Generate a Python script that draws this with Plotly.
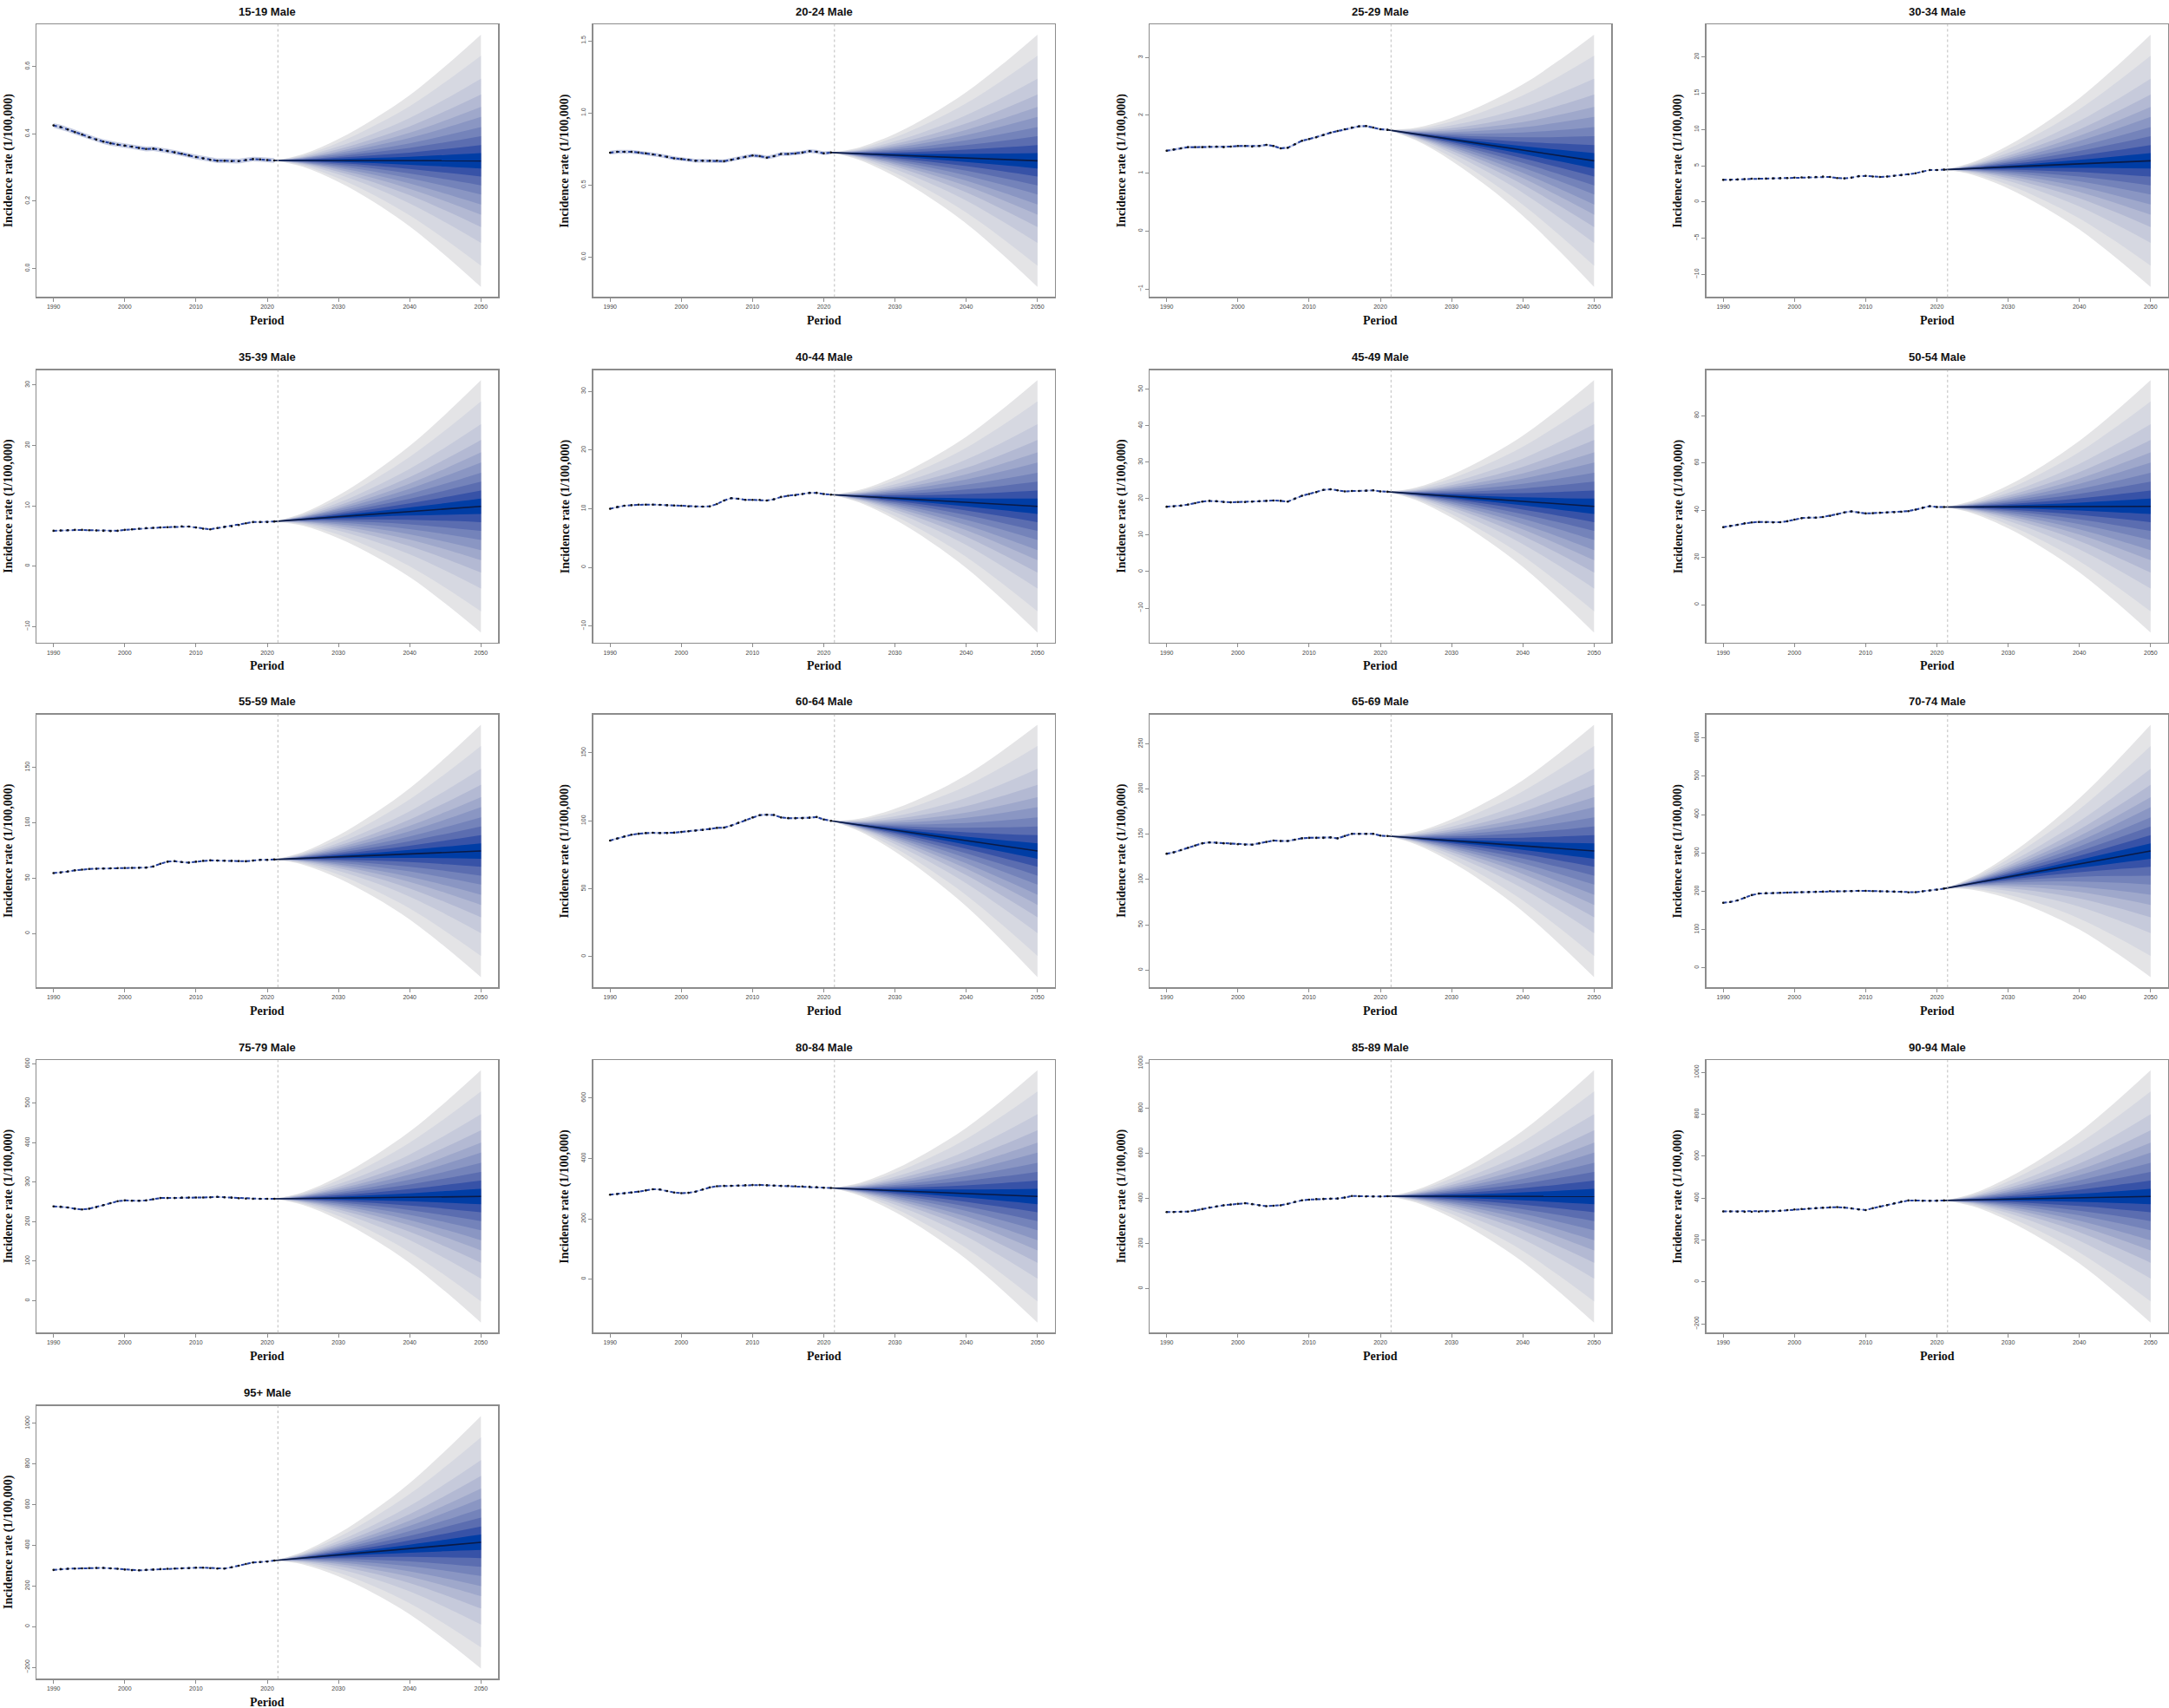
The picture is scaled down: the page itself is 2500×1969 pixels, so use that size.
import plotly.graph_objects as go

W, H = 2500, 1969

# ---------------- data ----------------
years_obs = list(range(1990, 2022))
proj_years = [2021, 2025, 2030, 2035, 2040, 2045, 2050]
# relative growth of the fan width over time (fraction of the 2050 width)
fan_profile = [0.0, 0.05, 0.17, 0.33, 0.52, 0.75, 1.0]
# band edges as fraction of outer half-width (outer -> inner)
band_fraction = [1.0, 0.832, 0.651, 0.525, 0.427, 0.347, 0.267, 0.195, 0.125, 0.061]
band_colors = ["#E4E4E6", "#D6D8E1", "#C6CADB", "#B3B9D3", "#9FA8CB", "#8A96C3",
               "#7483BA", "#5B6DB0", "#3752A7", "#003DA5"]

panel_titles = ["15-19 Male", "20-24 Male", "25-29 Male", "30-34 Male",
                "35-39 Male", "40-44 Male", "45-49 Male", "50-54 Male",
                "55-59 Male", "60-64 Male", "65-69 Male", "70-74 Male",
                "75-79 Male", "80-84 Male", "85-89 Male", "90-94 Male", "95+ Male"]

obs_15_19 = [0.425, 0.420, 0.413, 0.405, 0.398, 0.390, 0.383, 0.377, 0.372, 0.368, 0.365, 0.362,
             0.358, 0.355, 0.356, 0.353, 0.349, 0.345, 0.341, 0.336, 0.331, 0.327, 0.323, 0.320,
             0.320, 0.319, 0.319, 0.322, 0.325, 0.324, 0.322, 0.321]
obs_20_24 = [0.724, 0.730, 0.730, 0.730, 0.725, 0.720, 0.712, 0.705, 0.695, 0.685, 0.680, 0.675,
             0.668, 0.668, 0.668, 0.668, 0.665, 0.675, 0.685, 0.695, 0.705, 0.700, 0.690, 0.700,
             0.715, 0.715, 0.718, 0.725, 0.735, 0.730, 0.720, 0.725]
obs_25_29 = [1.388, 1.41, 1.43, 1.45, 1.45, 1.45, 1.46, 1.46, 1.45, 1.46, 1.47, 1.47,
             1.46, 1.47, 1.49, 1.47, 1.43, 1.44, 1.50, 1.56, 1.59, 1.62, 1.66, 1.70,
             1.73, 1.76, 1.79, 1.81, 1.815, 1.79, 1.76, 1.75]
obs_30_34 = [3.05, 3.05, 3.10, 3.15, 3.20, 3.20, 3.22, 3.25, 3.28, 3.30, 3.35, 3.38,
             3.40, 3.45, 3.50, 3.45, 3.30, 3.25, 3.35, 3.55, 3.60, 3.50, 3.45, 3.50,
             3.60, 3.70, 3.80, 3.95, 4.20, 4.40, 4.40, 4.45]
obs_35_39 = [5.85, 5.90, 5.95, 6.00, 6.00, 5.95, 5.90, 5.85, 5.80, 5.85, 6.00, 6.10,
             6.20, 6.30, 6.35, 6.40, 6.45, 6.50, 6.60, 6.55, 6.40, 6.20, 6.10, 6.30,
             6.50, 6.60, 6.80, 7.10, 7.30, 7.30, 7.30, 7.40]
obs_40_44 = [10.0, 10.3, 10.5, 10.6, 10.7, 10.7, 10.7, 10.65, 10.6, 10.55, 10.5, 10.4,
             10.35, 10.35, 10.4, 10.8, 11.4, 11.8, 11.7, 11.5, 11.5, 11.5, 11.4, 11.6,
             12.0, 12.2, 12.3, 12.5, 12.7, 12.7, 12.5, 12.4]
obs_45_49 = [17.8, 17.9, 18.1, 18.4, 18.8, 19.2, 19.4, 19.3, 19.1, 19.0, 19.1, 19.1,
             19.2, 19.3, 19.4, 19.5, 19.4, 19.2, 20.0, 20.8, 21.3, 21.8, 22.4, 22.6,
             22.3, 22.0, 22.1, 22.1, 22.2, 22.3, 22.0, 21.9]
obs_50_54 = [32.8, 33.3, 33.8, 34.4, 34.8, 35.0, 34.9, 34.8, 34.9, 35.3, 36.0, 36.6,
             36.8, 36.8, 37.1, 37.6, 38.3, 39.0, 39.5, 39.0, 38.6, 38.7, 38.9, 39.0,
             39.1, 39.3, 39.6, 40.2, 41.0, 41.7, 41.3, 41.3]
obs_55_59 = [54.5, 55.0, 56.0, 57.0, 57.7, 58.2, 58.5, 58.6, 58.8, 59.0, 59.1, 59.2,
             59.3, 59.5, 60.5, 63.0, 64.8, 65.3, 64.5, 64.0, 64.8, 65.6, 66.0, 65.8,
             65.7, 65.6, 65.4, 65.2, 65.8, 66.5, 66.5, 66.8]
obs_60_64 = [85.5, 87.0, 88.5, 89.8, 90.5, 91.0, 91.2, 91.0, 91.0, 91.3, 91.8, 92.3,
             92.8, 93.3, 94.0, 94.8, 95.0, 96.5, 98.5, 100.5, 102.5, 104.2, 104.5, 104.3,
             102.5, 102.0, 102.0, 102.0, 102.3, 102.8, 101.0, 100.0]
obs_65_69 = [128.5, 130.0, 132.5, 135.0, 137.5, 140.0, 141.0, 140.5, 140.0, 139.5, 139.0, 138.5,
             138.5, 140.0, 141.5, 143.0, 142.5, 142.5, 144.0, 145.5, 146.0, 146.0, 146.0, 146.5,
             145.5, 148.0, 150.5, 150.5, 150.5, 150.5, 148.5, 148.0]
obs_70_74 = [170, 172, 176, 183, 190, 194, 195, 195.5, 196, 196.5, 197, 197.5,
             198, 198.5, 199, 200.5, 200, 200, 200.5, 201, 201, 200.5, 200, 199.5,
             199, 198.5, 197, 197.5, 200, 202, 204, 207]
obs_75_79 = [239, 238, 236, 233, 231, 233, 237, 242, 247, 252, 254, 253,
             253, 254, 257, 260, 260, 260, 261, 261.5, 261.5, 261.5, 262, 263,
             262, 261, 259.5, 258.5, 258, 258, 258, 258]
obs_80_84 = [280, 282, 284, 287, 290, 294, 298, 297, 292, 287, 285, 286,
             290, 297, 304, 308, 309, 309, 310, 311, 312, 312, 311, 310,
             309, 309, 308, 307, 306, 305, 303, 302]
obs_85_89 = [340, 340, 341, 342, 347, 353, 360, 365, 370, 373, 376, 379,
             375, 370, 366, 368, 370, 376, 385, 392, 395, 397, 398, 399,
             400, 404, 411, 410, 409, 409, 409, 410]
obs_90_94 = [337, 337, 336, 335, 335, 336, 337, 338, 340, 343, 346, 348,
             350, 352, 354, 356, 357, 355, 351, 346, 343, 352, 360, 367,
             375, 383, 389, 389, 387, 387, 388, 389]
obs_95p = [279, 283, 285, 286, 287, 288, 289, 289, 287, 285, 281, 278,
           277, 279, 281, 283, 285, 286, 287, 288, 290, 290, 288, 286,
           286, 292, 300, 308, 316, 318, 320, 325]

# projected median at proj_years
med_15_19 = [0.321, 0.321, 0.321, 0.321, 0.320, 0.320, 0.320]
med_20_24 = [0.725, 0.717, 0.707, 0.697, 0.688, 0.678, 0.668]
med_25_29 = [1.75, 1.676, 1.584, 1.492, 1.400, 1.307, 1.215]
med_30_34 = [4.45, 4.62, 4.83, 5.04, 5.26, 5.47, 5.68]
med_35_39 = [7.4, 7.75, 8.18, 8.61, 9.04, 9.47, 9.9]
med_40_44 = [12.4, 12.12, 11.78, 11.43, 11.09, 10.74, 10.4]
med_45_49 = [21.9, 21.35, 20.66, 19.97, 19.28, 18.59, 17.9]
med_50_54 = [41.3, 41.34, 41.39, 41.44, 41.5, 41.55, 41.6]
med_55_59 = [66.8, 67.86, 69.19, 70.52, 71.84, 73.18, 74.5]
med_60_64 = [100.0, 96.94, 93.12, 89.28, 85.46, 81.62, 77.8]
med_65_69 = [148.0, 145.72, 142.88, 140.03, 137.19, 134.34, 131.5]
med_70_74 = [207.0, 220.5, 237.4, 254.3, 271.2, 288.1, 305.0]
med_75_79 = [258.0, 258.8, 259.9, 260.9, 261.9, 263.0, 264.0]
med_80_84 = [302.0, 298.1, 293.3, 288.5, 283.7, 278.8, 274.0]
med_85_89 = [410.0, 410.0, 410.0, 409.5, 409.5, 409.0, 409.0]
med_90_94 = [389.0, 391.6, 394.9, 398.2, 401.4, 404.7, 408.0]
med_95p = [325.0, 337.4, 352.9, 368.5, 383.9, 399.5, 415.0]

# outer (widest band) half-width in 2050
fan_halfwidth_2050 = [0.375, 0.875, 2.18, 17.4, 20.9, 21.5, 34.6, 53.4, 114.0, 92.9,
                      139.4, 329.0, 319.5, 418.0, 560.0, 602.0, 621.0]
# half-width of the light uncertainty band around observed values
obs_ui = [0.007, 0.013, 0.02, 0.05, 0.08, 0.12, 0.2, 0.35, 0.5, 0.7,
          1.0, 1.5, 1.8, 2.0, 2.5, 2.5, 2.5]
ytick_step = [0.2, 0.5, 1, 5, 10, 10, 10, 20, 50, 50, 50, 100, 100, 200, 200, 200, 200]
ytick_format = [".1f", ".1f", "d", "d", "d", "d", "d", "d", "d", "d",
                "d", "d", "d", "d", "d", "d", "d"]

obs_series = [obs_15_19, obs_20_24, obs_25_29, obs_30_34, obs_35_39, obs_40_44, obs_45_49,
              obs_50_54, obs_55_59, obs_60_64, obs_65_69, obs_70_74, obs_75_79, obs_80_84,
              obs_85_89, obs_90_94, obs_95p]
med_series = [med_15_19, med_20_24, med_25_29, med_30_34, med_35_39, med_40_44, med_45_49,
              med_50_54, med_55_59, med_60_64, med_65_69, med_70_74, med_75_79, med_80_84,
              med_85_89, med_90_94, med_95p]

# ---------------- layout geometry (pixels) ----------------
col_left = [42, 683.5, 1325, 1966.5]
row_top = [23.3, 422.7, 821, 1220.3, 1620]
box_w, box_h = 532, 315

fig = go.Figure()
layout_axes = {}
annotations = []
shapes = []

serif = "Liberation Serif, Times New Roman, serif"
sans = "Liberation Sans, Arial, sans-serif"

for i, title in enumerate(panel_titles):
    r, c = divmod(i, 4)
    n = "" if i == 0 else str(i + 1)
    xa, ya = "x" + n, "y" + n
    left = col_left[c]
    top = row_top[r]
    x0, x1 = left / W, (left + box_w) / W
    y1, y0 = 1 - top / H, 1 - (top + box_h) / H

    obs = obs_series[i]
    med = med_series[i]
    hw = fan_halfwidth_2050[i]
    ui = obs_ui[i]

    # fan bands (outer to inner)
    all_vals = []
    for k, frac in enumerate(band_fraction):
        lo = [m - frac * hw * p for m, p in zip(med, fan_profile)]
        hi = [m + frac * hw * p for m, p in zip(med, fan_profile)]
        all_vals += lo + hi
        fig.add_trace(go.Scatter(x=proj_years, y=lo, mode="lines",
                                 line=dict(width=0, shape="spline", color=band_colors[k]),
                                 xaxis=xa, yaxis=ya, showlegend=False, hoverinfo="skip"))
        fig.add_trace(go.Scatter(x=proj_years, y=hi, mode="lines", fill="tonexty",
                                 fillcolor=band_colors[k],
                                 line=dict(width=0, shape="spline", color=band_colors[k]),
                                 xaxis=xa, yaxis=ya, showlegend=False, hoverinfo="skip"))

    # light band around observed
    obs_lo = [v - ui for v in obs]
    obs_hi = [v + ui for v in obs]
    all_vals += obs_lo + obs_hi
    fig.add_trace(go.Scatter(x=years_obs, y=obs_lo, mode="lines",
                             line=dict(width=0, color="#C9CFE4"),
                             xaxis=xa, yaxis=ya, showlegend=False, hoverinfo="skip"))
    fig.add_trace(go.Scatter(x=years_obs, y=obs_hi, mode="lines", fill="tonexty",
                             fillcolor="#C9CFE4", line=dict(width=0, color="#C9CFE4"),
                             xaxis=xa, yaxis=ya, showlegend=False, hoverinfo="skip"))

    # median projection line
    fig.add_trace(go.Scatter(x=proj_years, y=med, mode="lines",
                             line=dict(width=1.6, color="#0B1A45"),
                             xaxis=xa, yaxis=ya, showlegend=False, hoverinfo="skip"))

    # observed: dashed blue line with black points
    fig.add_trace(go.Scatter(x=years_obs, y=obs, mode="lines",
                             line=dict(width=2, color="#1F3C9C", dash="4px,3px"),
                             xaxis=xa, yaxis=ya, showlegend=False, hoverinfo="skip"))
    fig.add_trace(go.Scatter(x=years_obs, y=obs, mode="markers",
                             marker=dict(size=2.6, color="#111111"),
                             xaxis=xa, yaxis=ya, showlegend=False, hoverinfo="skip"))

    ymin, ymax = min(all_vals), max(all_vals)
    pad = 0.04 * (ymax - ymin)
    yr = [ymin - pad, ymax + pad]

    common = dict(showgrid=False, zeroline=False, showline=True, mirror=True,
                  linecolor="#8C8C8C", linewidth=1.5, ticks="outside", ticklen=4,
                  tickwidth=1, tickcolor="#8C8C8C",
                  tickfont=dict(family=sans, size=7, color="#444444"))
    layout_axes["xaxis" + n] = dict(domain=[x0, x1], anchor=ya, range=[1987.6, 2052.4],
                                    tickmode="array", tickvals=[1990, 2000, 2010, 2020, 2030, 2040, 2050],
                                    **common)
    layout_axes["yaxis" + n] = dict(domain=[y0, y1], anchor=xa, range=yr,
                                    tick0=0, dtick=ytick_step[i], tickangle=-90,
                                    tickformat=ytick_format[i],
                                    **common)

    shapes.append(dict(type="line", xref=xa, yref=ya + " domain", x0=2021.5, x1=2021.5,
                       y0=0, y1=1, line=dict(color="#BDBDBD", width=1, dash="dot")))

    cx = (left + box_w / 2) / W
    annotations.append(dict(text="<b>" + title + "</b>", x=cx, y=1 - (top - 15) / H,
                            xref="paper", yref="paper", showarrow=False,
                            xanchor="center", yanchor="middle",
                            font=dict(family=sans, size=13, color="#111111")))
    annotations.append(dict(text="<b>Period</b>", x=cx, y=1 - (top + box_h + 27) / H,
                            xref="paper", yref="paper", showarrow=False,
                            xanchor="center", yanchor="middle",
                            font=dict(family=serif, size=14, color="#111111")))
    annotations.append(dict(text="<b>Incidence rate (1/100,000)</b>", x=(left - 32) / W,
                            y=1 - (top + box_h / 2) / H,
                            xref="paper", yref="paper", showarrow=False, textangle=-90,
                            xanchor="center", yanchor="middle",
                            font=dict(family=serif, size=14, color="#111111")))

fig.update_layout(width=W, height=H, margin=dict(l=0, r=0, t=0, b=0),
                  paper_bgcolor="white", plot_bgcolor="white", showlegend=False,
                  hovermode=False, annotations=annotations, shapes=shapes, **layout_axes)

fig.write_html("out.html", config={"displayModeBar": False, "staticPlot": True},
               post_script="document.body.style.margin='0px';document.body.style.overflow='hidden';")
